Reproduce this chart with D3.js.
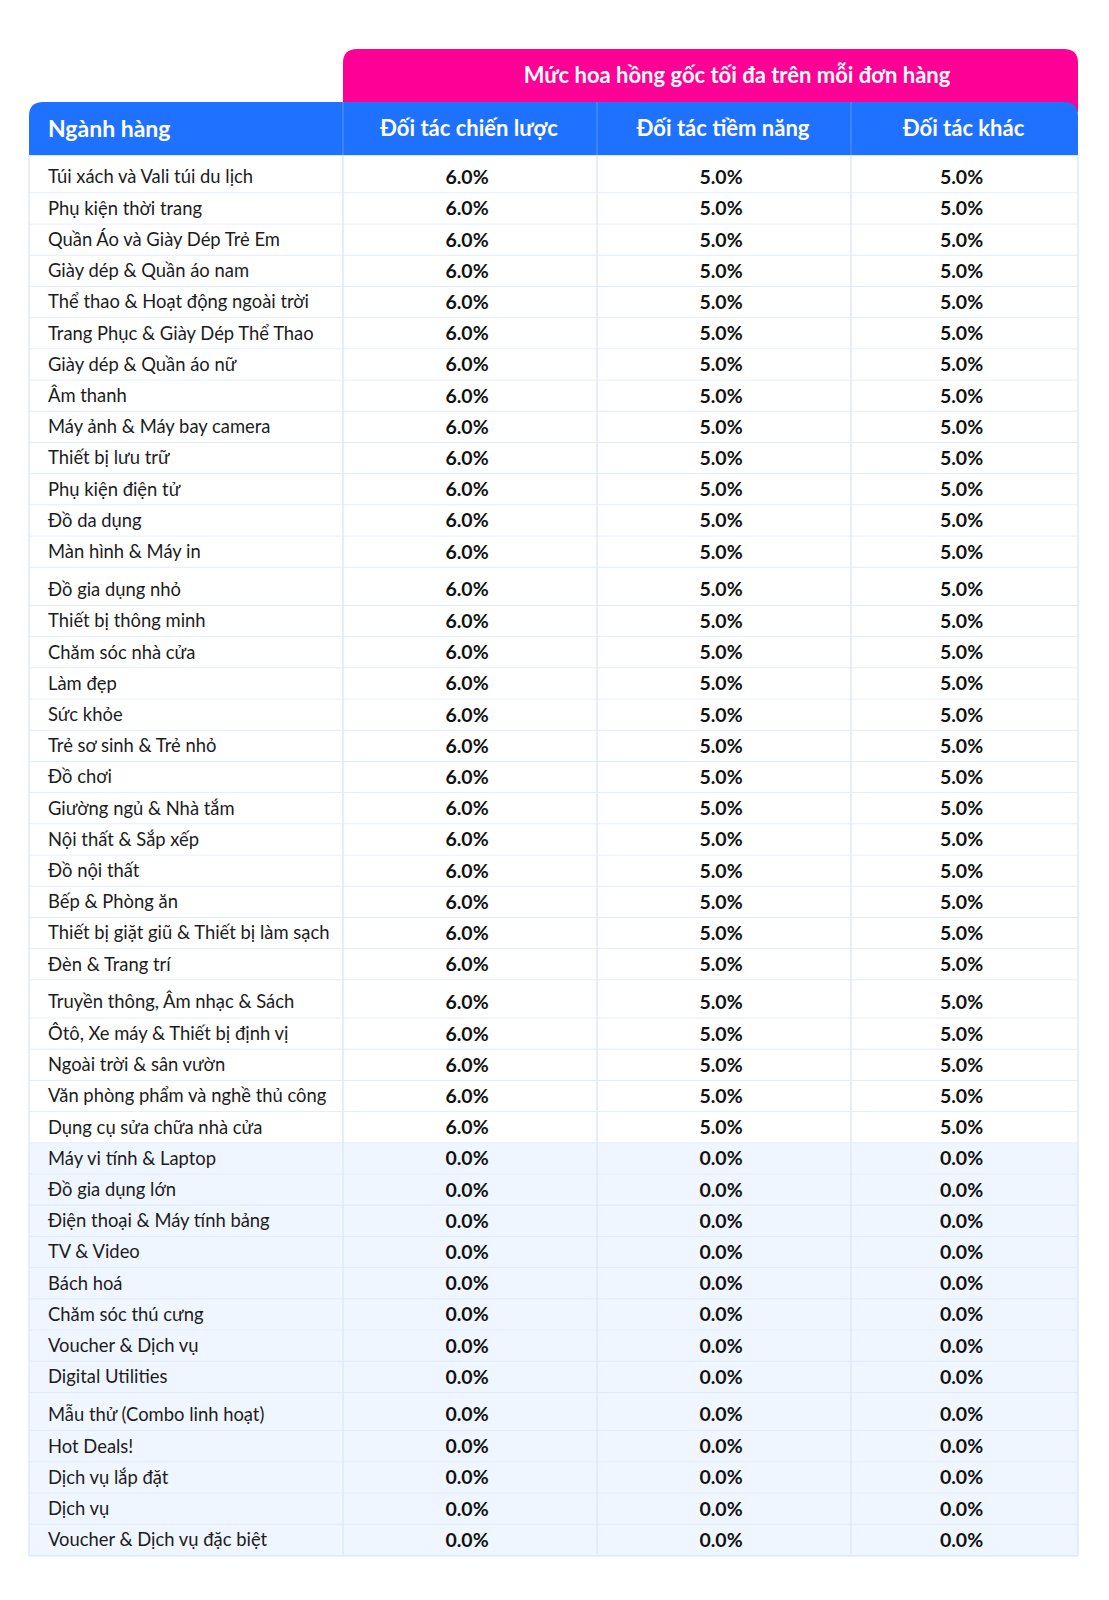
<!DOCTYPE html>
<html>
<head>
<meta charset="utf-8">
<script src="https://cdn.jsdelivr.net/npm/d3@7"></script>
<style>
  html, body { margin: 0; padding: 0; background: #ffffff; }
  svg { display: block; }
</style>
</head>
<body>
<svg id="chart" width="1109" height="1600"></svg>
<script>
// ---------- DATA ----------
const title = "Mức hoa hồng gốc tối đa trên mỗi đơn hàng";
const firstHeader = "Ngành hàng";
const columns = ["Đối tác chiến lược", "Đối tác tiềm năng", "Đối tác khác"];
const categories = [
  "Túi xách và Vali túi du lịch", "Phụ kiện thời trang", "Quần Áo và Giày Dép Trẻ Em",
  "Giày dép & Quần áo nam", "Thể thao & Hoạt động ngoài trời", "Trang Phục & Giày Dép Thể Thao",
  "Giày dép & Quần áo nữ", "Âm thanh", "Máy ảnh & Máy bay camera", "Thiết bị lưu trữ",
  "Phụ kiện điện tử", "Đồ da dụng", "Màn hình & Máy in",
  "Đồ gia dụng nhỏ", "Thiết bị thông minh", "Chăm sóc nhà cửa", "Làm đẹp", "Sức khỏe",
  "Trẻ sơ sinh & Trẻ nhỏ", "Đồ chơi", "Giường ngủ & Nhà tắm", "Nội thất & Sắp xếp",
  "Đồ nội thất", "Bếp & Phòng ăn", "Thiết bị giặt giũ & Thiết bị làm sạch", "Đèn & Trang trí",
  "Truyền thông, Âm nhạc & Sách", "Ôtô, Xe máy & Thiết bị định vị", "Ngoài trời & sân vườn",
  "Văn phòng phẩm và nghề thủ công", "Dụng cụ sửa chữa nhà cửa", "Máy vi tính & Laptop",
  "Đồ gia dụng lớn", "Điện thoại & Máy tính bảng", "TV & Video", "Bách hoá",
  "Chăm sóc thú cưng", "Voucher & Dịch vụ", "Digital Utilities",
  "Mẫu thử (Combo linh hoạt)", "Hot Deals!", "Dịch vụ lắp đặt", "Dịch vụ",
  "Voucher & Dịch vụ đặc biệt"
];
const strategic = [6,6,6,6,6,6,6,6,6,6,6,6,6, 6,6,6,6,6,6,6,6,6,6,6,6,6, 6,6,6,6,6,0,0,0,0,0,0,0,0, 0,0,0,0,0];
const potential = [5,5,5,5,5,5,5,5,5,5,5,5,5, 5,5,5,5,5,5,5,5,5,5,5,5,5, 5,5,5,5,5,0,0,0,0,0,0,0,0, 0,0,0,0,0];
const other     = [5,5,5,5,5,5,5,5,5,5,5,5,5, 5,5,5,5,5,5,5,5,5,5,5,5,5, 5,5,5,5,5,0,0,0,0,0,0,0,0, 0,0,0,0,0];
const groupStarts = [0, 13, 26, 39];   // rows where a new block of the table begins

// ---------- LAYOUT ----------
const svg = d3.select("#chart");
const FONT = "Lato, 'Noto Sans', sans-serif";
const pink = "#ff0096", blue = "#1f72ff", shade = "#f0f6ff", lineCol = "#dce8fb";

const left = 29, right = 1078, splitX = 343;
const pinkTop = 49, headTop = 102, headBottom = 155;
const rowH = 31.2, groupGap = 7;

const series = [strategic, potential, other];
const colEdges = [left, splitX, 597, 851, right];
const colX0 = d3.scaleOrdinal().domain(["cat", ...columns]).range(colEdges.slice(0, 4));
const colX1 = d3.scaleOrdinal().domain(["cat", ...columns]).range(colEdges.slice(1));

const rowIdx = d3.range(categories.length);
const yBand = d3.scaleLinear().domain([0, categories.length]).range([headBottom, headBottom + categories.length * rowH]);
const groupOf = i => d3.bisectRight(groupStarts, i);
const rowBottom = i => yBand(i + 1) + groupOf(i) * groupGap;
const isStart = i => groupStarts.includes(i);
const rowTop = i => isStart(i) ? rowBottom(i) - rowH - groupGap : rowBottom(i) - rowH;
const textY = i => rowBottom(i) - rowH / 2 - 1 - (isStart(i) ? 0.5 : 0);

const fmt = d3.format(".1f");

// pink super-header
const r = 14;
svg.append("path")
  .attr("d", `M${splitX},${headTop + 10} L${splitX},${pinkTop + r} Q${splitX},${pinkTop} ${splitX + r},${pinkTop}
              L${right - r},${pinkTop} Q${right},${pinkTop} ${right},${pinkTop + r} L${right},${headTop + 10} Z`)
  .attr("fill", pink);
svg.append("text")
  .attr("x", 737).attr("y", 74)
  .attr("text-anchor", "middle").attr("dominant-baseline", "central")
  .attr("font-family", FONT).attr("font-weight", 700).attr("font-size", 22)
  .attr("fill", "#ffffff").text(title);

// blue header
svg.append("path")
  .attr("d", `M${left},${headBottom} L${left},${headTop + r} Q${left},${headTop} ${left + r},${headTop}
              L${right - r},${headTop} Q${right},${headTop} ${right},${headTop + r} L${right},${headBottom} Z`)
  .attr("fill", blue);
svg.selectAll("line.hdiv").data(columns).join("line")
  .attr("class", "hdiv")
  .attr("x1", d => colX0(d)).attr("x2", d => colX0(d))
  .attr("y1", headTop).attr("y2", headBottom)
  .attr("stroke", "#5b98ff").attr("stroke-width", 1);

svg.append("text")
  .attr("x", 48).attr("y", (headTop + headBottom) / 2 - 1)
  .attr("dominant-baseline", "central")
  .attr("font-family", FONT).attr("font-weight", 700).attr("font-size", 23)
  .attr("fill", "#ffffff").text(firstHeader);
svg.selectAll("text.colhead").data(columns).join("text")
  .attr("class", "colhead")
  .attr("x", d => (colX0(d) + colX1(d)) / 2 - 1).attr("y", (headTop + headBottom) / 2 - 1)
  .attr("text-anchor", "middle").attr("dominant-baseline", "central")
  .attr("font-family", FONT).attr("font-weight", 700).attr("font-size", 22)
  .attr("fill", "#ffffff").text(d => d);

// body rows
const rows = svg.selectAll("g.row").data(rowIdx).join("g").attr("class", "row");
rows.append("rect")
  .attr("x", left).attr("width", right - left)
  .attr("y", i => rowTop(i)).attr("height", i => rowBottom(i) - rowTop(i))
  .attr("fill", i => (strategic[i] === 0 && potential[i] === 0 && other[i] === 0) ? shade : "#ffffff");
rows.append("line")
  .attr("x1", left).attr("x2", right)
  .attr("y1", i => rowBottom(i)).attr("y2", i => rowBottom(i))
  .attr("stroke", lineCol).attr("stroke-width", 1.5);
rows.append("text")
  .attr("x", 48).attr("y", textY)
  .attr("dominant-baseline", "central")
  .attr("font-family", FONT).attr("font-size", 18.4)
  .attr("fill", "#1c1c1c").text(i => categories[i]);
columns.forEach((c, k) => {
  rows.append("text")
    .attr("x", (colX0(c) + colX1(c)) / 2 - 3).attr("y", textY)
    .attr("text-anchor", "middle").attr("dominant-baseline", "central")
    .attr("font-family", FONT).attr("font-weight", 700).attr("font-size", 19.5)
    .attr("fill", "#111111").text(i => fmt(series[k][i]) + "%");
});

// header bottom line + vertical grid
const bodyBottom = rowBottom(categories.length - 1);
svg.append("line").attr("x1", left).attr("x2", right).attr("y1", headBottom + 0.5).attr("y2", headBottom + 0.5)
  .attr("stroke", lineCol).attr("stroke-width", 1);
svg.selectAll("line.vdiv").data(colEdges).join("line")
  .attr("class", "vdiv")
  .attr("x1", d => d).attr("x2", d => d)
  .attr("y1", headBottom).attr("y2", bodyBottom)
  .attr("stroke", lineCol).attr("stroke-width", 1.5);
</script>
</body>
</html>
